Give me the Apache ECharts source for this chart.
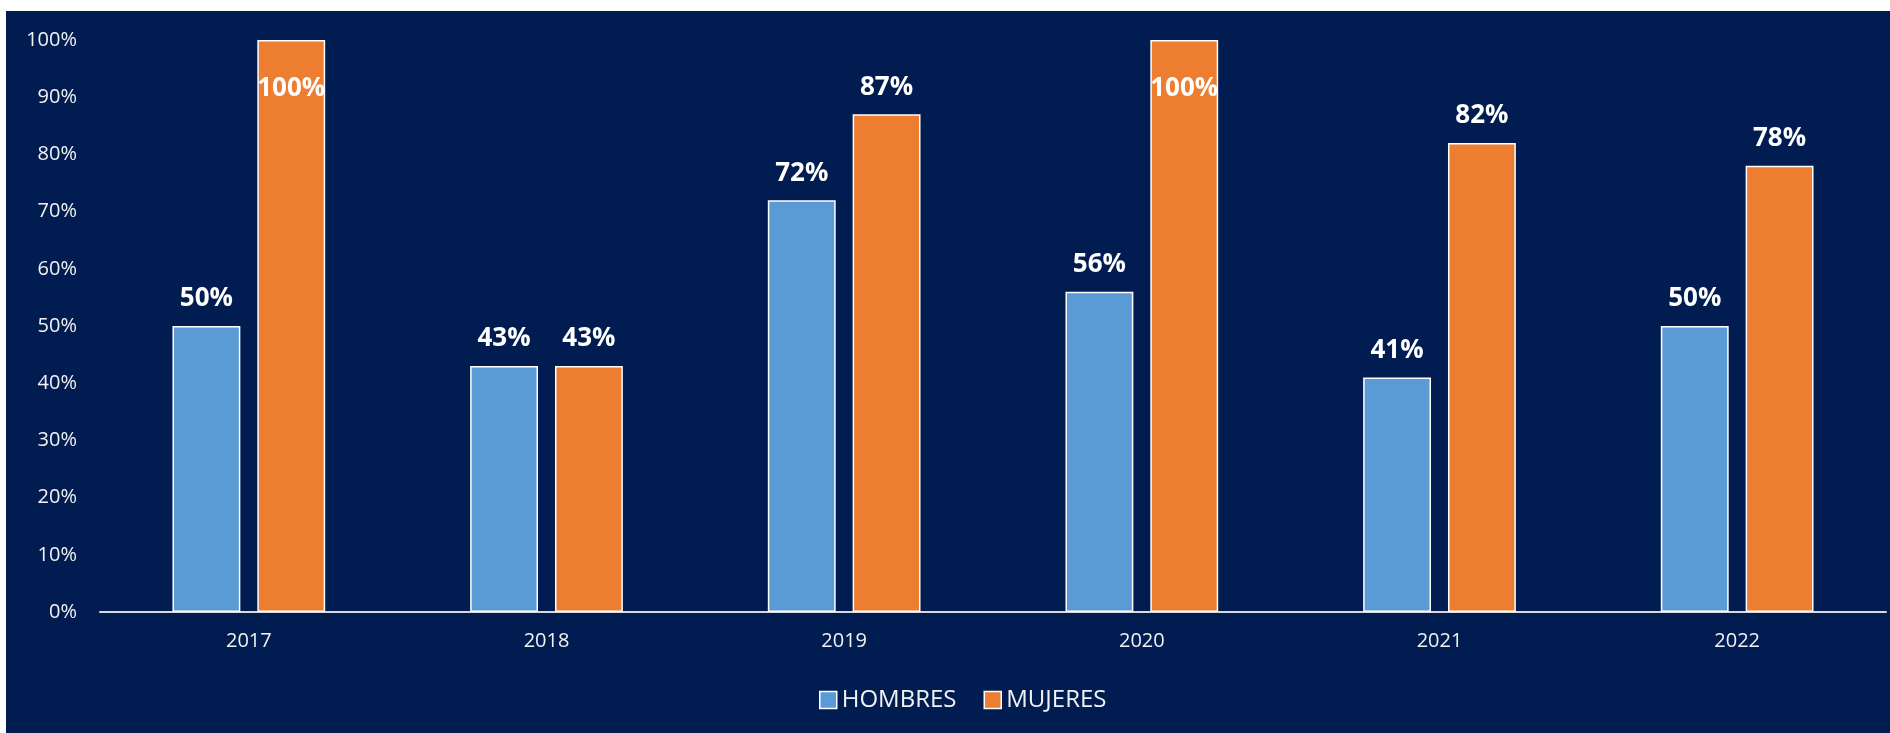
<!DOCTYPE html>
<html>
<head>
<meta charset="utf-8">
<script src="https://cdn.jsdelivr.net/npm/echarts@6/dist/echarts.min.js"></script>
<style>
  html, body { margin: 0; padding: 0; background: #ffffff; }
  #chart {
    position: absolute;
    left: 6px;
    top: 11px;
    width: 1884px;
    height: 722px;
    background: #001c50;
  }
</style>
</head>
<body>
<div id="chart"></div>
<script>
// datos
const years = ['2017', '2018', '2019', '2020', '2021', '2022']
const hombres = [50, 43, 72, 56, 41, 50]
const mujeres = [100, 43, 87, 100, 82, 78]

const FONT = '"Open Sans", "Liberation Sans", sans-serif'

// etiqueta dentro de la barra cuando toca el tope del eje
function withLabels(values) {
  return values.map(v => {
    if (v >= 100) {
      return { value: v, label: { position: 'insideTop', distance: 36 } }
    }
    return v
  })
}

function makeSeries(name, values, color) {
  return {
    name: name,
    type: 'bar',
    data: withLabels(values),
    barWidth: '22.8%',
    barGap: '25%',
    itemStyle: {
      color: color,
      borderColor: '#ffffff',
      borderWidth: 1.5
    },
    label: {
      show: true,
      position: 'top',
      distance: 14,
      color: '#ffffff',
      fontFamily: FONT,
      fontWeight: 'bold',
      fontSize: 26,
      formatter: '{c}%'
    }
  }
}

const chart = echarts.init(document.getElementById('chart'))
chart.setOption({
  animation: false,
  backgroundColor: '#001c50',
  textStyle: { fontFamily: FONT },
  grid: {
    left: 94,
    right: 4,
    top: 29,
    bottom: 121,
    containLabel: false
  },
  legend: {
    data: ['HOMBRES', 'MUJERES'],
    left: 808,
    top: 672,
    icon: 'rect',
    itemWidth: 17,
    itemHeight: 17,
    itemGap: 27,
    itemStyle: { borderColor: '#ffffff', borderWidth: 1.5 },
    textStyle: {
      color: '#f2f2f2',
      fontSize: 24,
      fontFamily: FONT
    }
  },
  xAxis: {
    type: 'category',
    data: years,
    axisTick: { show: false },
    axisLine: { lineStyle: { color: '#d9d9d9', width: 2 } },
    axisLabel: {
      color: '#f2f2f2',
      fontSize: 20,
      fontFamily: FONT,
      margin: 19
    }
  },
  yAxis: {
    type: 'value',
    min: 0,
    max: 100,
    interval: 10,
    splitLine: { show: false },
    axisLine: { show: false },
    axisLabel: {
      color: '#f2f2f2',
      fontSize: 20,
      fontFamily: FONT,
      margin: 23,
      formatter: '{value}%'
    }
  },
  series: [
    makeSeries('HOMBRES', hombres, '#5b9bd5'),
    makeSeries('MUJERES', mujeres, '#ed7d31')
  ]
})
</script>
</body>
</html>
